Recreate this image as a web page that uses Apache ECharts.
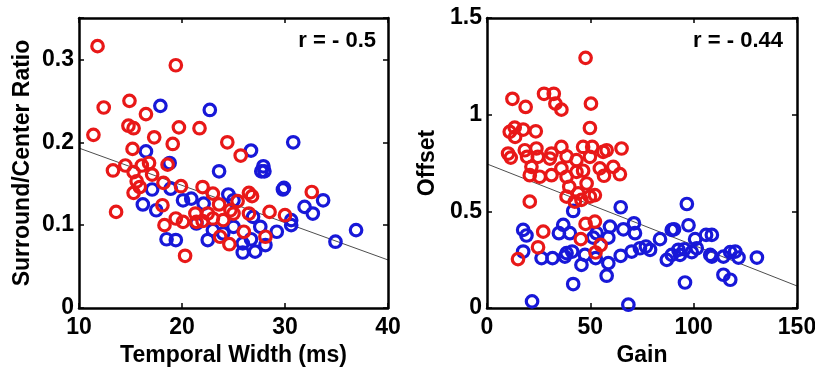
<!DOCTYPE html>
<html><head><meta charset="utf-8">
<script src="https://cdn.jsdelivr.net/npm/echarts@6/dist/echarts.min.js"></script>
<style>html,body{margin:0;padding:0;background:#fff}#c{width:815px;height:367px}</style>
</head><body><div id="c"></div>
<script>
// Left panel: Temporal Width (ms) vs Surround/Center Ratio
const swRed = [[11.8,0.316],[19.4,0.293],[14.9,0.250],[12.4,0.242],[16.5,0.234],[14.8,0.220],[15.3,0.217],[19.7,0.218],[21.7,0.217],[11.4,0.209],[17.3,0.206],[19.1,0.198],[24.4,0.200],[15.2,0.192],[25.7,0.184],[13.3,0.166],[14.5,0.172],[15.3,0.164],[16.1,0.172],[16.8,0.175],[17.1,0.161],[18.6,0.173],[15.6,0.153],[18.2,0.151],[19.9,0.147],[22.0,0.146],[15.3,0.139],[15.9,0.146],[23.0,0.138],[26.5,0.139],[26.8,0.135],[32.6,0.140],[13.6,0.116],[18.1,0.124],[23.6,0.125],[25.4,0.129],[21.3,0.114],[22.5,0.114],[24.7,0.118],[28.5,0.116],[30.0,0.112],[26.5,0.114],[19.4,0.108],[20.1,0.104],[21.4,0.104],[24.0,0.106],[23.0,0.108],[18.3,0.100],[26.0,0.092],[23.7,0.086],[28.1,0.086],[24.6,0.077],[20.3,0.063],[22.0,0.105],[25.0,0.114]];
const swBlue = [[17.9,0.244],[22.7,0.239],[16.5,0.189],[26.7,0.190],[30.8,0.200],[18.8,0.175],[23.6,0.165],[27.9,0.171],[28.0,0.165],[27.7,0.165],[29.8,0.143],[29.9,0.145],[17.1,0.143],[18.9,0.144],[24.5,0.137],[20.1,0.130],[20.9,0.132],[16.2,0.125],[17.5,0.118],[31.9,0.122],[32.7,0.114],[33.7,0.130],[30.6,0.106],[30.6,0.100],[18.5,0.083],[19.4,0.082],[22.5,0.082],[21.4,0.102],[23.0,0.094],[25.9,0.078],[27.1,0.068],[25.9,0.067],[28.1,0.076],[29.2,0.092],[27.6,0.098],[26.7,0.083],[34.9,0.080],[36.9,0.094],[25.0,0.098],[26.9,0.110],[22.1,0.126],[25.0,0.130],[24.0,0.090]];
const swFit = [[10,0.193],[40,0.058]];
const swTicksX = [10,20,30,40];
const swTicksY = [0,0.1,0.2,0.3];

// Right panel: Gain vs Offset
const ogRed = [[47.7,1.294],[12.3,1.082],[18.7,1.040],[27.6,1.108],[32.3,1.108],[33.1,1.057],[36.0,1.026],[50.3,1.057],[49.8,0.931],[11.0,0.911],[13.4,0.933],[17.5,0.923],[23.6,0.914],[13.6,0.885],[10.2,0.799],[11.5,0.778],[19.4,0.782],[23.9,0.825],[24.6,0.782],[30.4,0.773],[31.2,0.799],[36.0,0.833],[38.5,0.785],[46.5,0.833],[50.9,0.833],[49.8,0.782],[56.2,0.808],[57.9,0.816],[65.1,0.825],[21.5,0.730],[25.5,0.679],[31.2,0.687],[20.7,0.687],[36.0,0.722],[38.5,0.679],[43.3,0.704],[46.5,0.710],[54.6,0.722],[61.1,0.730],[56.6,0.684],[64.3,0.692],[39.8,0.627],[48.2,0.644],[38.5,0.576],[44.1,0.593],[49.8,0.576],[52.2,0.584],[42.5,0.550],[20.7,0.550],[47.7,0.435],[52.2,0.447],[27.2,0.395],[45.4,0.356],[55.0,0.326],[24.7,0.314],[52.5,0.287],[15.0,0.253],[43.3,0.765],[45.7,0.559],[18.3,0.816]];
const ogBlue = [[21.8,0.034],[68.4,0.017],[41.7,0.124],[57.9,0.167],[95.8,0.132],[114.4,0.172],[117.7,0.146],[41.7,0.502],[64.7,0.521],[96.7,0.538],[17.5,0.404],[19.1,0.375],[34.8,0.387],[36.9,0.430],[40.1,0.387],[59.5,0.421],[66.0,0.407],[71.1,0.438],[71.6,0.387],[58.7,0.364],[51.4,0.364],[83.7,0.356],[89.4,0.404],[90.5,0.407],[97.5,0.428],[100.7,0.356],[106.0,0.378],[108.8,0.378],[17.5,0.292],[26.4,0.258],[31.7,0.258],[37.7,0.266],[38.5,0.284],[41.2,0.292],[45.7,0.223],[47.4,0.275],[52.6,0.258],[58.7,0.232],[64.7,0.270],[70.0,0.292],[74.0,0.309],[78.9,0.301],[87.0,0.249],[89.4,0.275],[93.4,0.275],[99.1,0.289],[101.5,0.309],[108.8,0.266],[114.4,0.266],[120.1,0.292],[121.7,0.261],[130.6,0.261],[117.7,0.289],[76.9,0.318],[92.6,0.301],[53.0,0.387],[108.0,0.275],[95.5,0.304]];
const ogFit = [[0,0.745],[150,0.114]];
const ogTicksX = [0,50,100,150];
const ogTicksY = [0,0.5,1,1.5];

const RED = '#e81818', BLUE = '#1818d8';
const FONT = 'Liberation Sans, Arial, sans-serif';
const lbl = {fontFamily: FONT, fontWeight: 'bold', fontSize: 23, color: '#000'};

function fmt(ticks){
  return v => { const hit = ticks.find(t => Math.abs(t - v) < 1e-9); return hit === undefined ? '' : String(hit); };
}
function xAxes(gi, min, max, interval, ticks, name){
  const base = {gridIndex: gi, type: 'value', min, max, interval,
    axisLine: {show: true, onZero: false, lineStyle: {color: '#000', width: 2.5}},
    axisTick: {show: true, inside: true, length: 5, lineStyle: {color: '#000', width: 1.5}},
    splitLine: {show: false}};
  return [
    Object.assign({}, base, {position: 'bottom', name, nameLocation: 'middle', nameGap: 33,
      nameTextStyle: Object.assign({}, lbl),
      axisLabel: Object.assign({margin: 8, formatter: fmt(ticks)}, lbl)}),
    Object.assign({}, base, {position: 'top', axisLabel: {show: false}})
  ];
}
function yAxes(gi, min, max, interval, ticks, name, gap){
  const base = {gridIndex: gi, type: 'value', min, max, interval,
    axisLine: {show: true, onZero: false, lineStyle: {color: '#000', width: 2.5}},
    axisTick: {show: true, inside: true, length: 5, lineStyle: {color: '#000', width: 1.5}},
    splitLine: {show: false}};
  return [
    Object.assign({}, base, {position: 'left', name, nameLocation: 'middle', nameGap: gap,
      nameTextStyle: Object.assign({}, lbl),
      axisLabel: Object.assign({margin: 5, formatter: fmt(ticks)}, lbl)}),
    Object.assign({}, base, {position: 'right', axisLabel: {show: false}})
  ];
}
function scatter(xi, yi, data, color){
  return {type: 'scatter', xAxisIndex: xi, yAxisIndex: yi, data, symbol: 'circle', symbolSize: 11.5,
    itemStyle: {color: 'rgba(0,0,0,0)', borderColor: color, borderWidth: 3.2, opacity: 1},
    emphasis: {disabled: true}, silent: true, z: color === RED ? 3 : 2};
}
function fit(xi, yi, data){
  return {type: 'line', xAxisIndex: xi, yAxisIndex: yi, data, symbol: 'none', silent: true,
    lineStyle: {color: '#000', width: 0.7}, z: 1};
}

const chart = echarts.init(document.getElementById('c'), null, {renderer: 'canvas'});
chart.setOption({
  animation: false,
  backgroundColor: '#fff',
  title: [
    {text: 'r = - 0.5', right: 434, top: 25, textStyle: Object.assign({}, lbl, {fontSize: 22})},
    {text: 'r = - 0.44', right: 27, top: 25, textStyle: Object.assign({}, lbl, {fontSize: 22})}
  ],
  grid: [
    {left: 79, top: 18, width: 309, height: 290, containLabel: false, outerBoundsMode: 'none'},
    {left: 487, top: 18, width: 310, height: 290, containLabel: false, outerBoundsMode: 'none'}
  ],
  xAxis: [].concat(xAxes(0, 10, 40, 10, swTicksX, 'Temporal Width (ms)'), xAxes(1, 0, 150, 50, ogTicksX, 'Gain')),
  yAxis: [].concat(yAxes(0, 0, 0.35, 0.1, swTicksY, 'Surround/Center Ratio', 45), yAxes(1, 0, 1.5, 0.5, ogTicksY, 'Offset', 48)),
  series: [
    fit(0, 0, swFit),
    scatter(0, 0, swBlue, BLUE),
    scatter(0, 0, swRed, RED),
    fit(2, 2, ogFit),
    scatter(2, 2, ogBlue, BLUE),
    scatter(2, 2, ogRed, RED)
  ]
});
</script></body></html>
